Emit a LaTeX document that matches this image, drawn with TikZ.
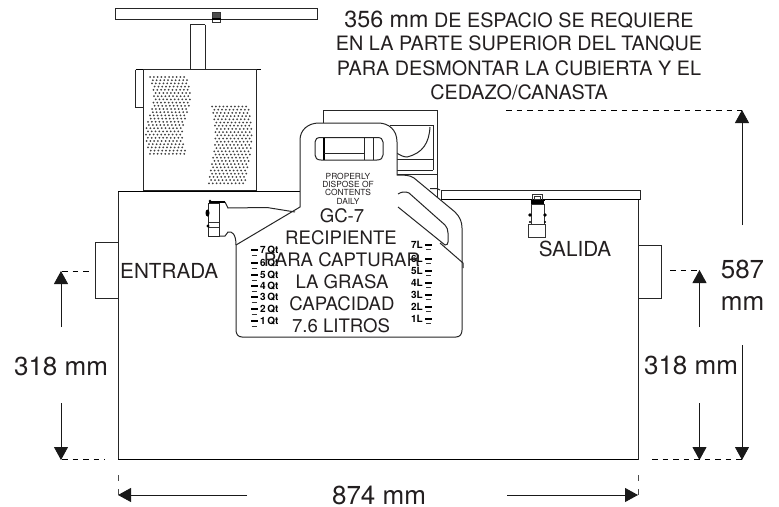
\documentclass[tikz,border=0pt]{standalone}
\usepackage{fontspec}
\setmainfont{TeX Gyre Heros}
\usetikzlibrary{arrows.meta}
\definecolor{ink}{HTML}{231F20}
\tikzset{
  x=1pt,y=-1pt,
  ln/.style={line width=1pt,draw=black!85},
  thick line/.style={line width=1.3pt,draw=black},
  thin line/.style={line width=.8pt,draw=black!80},
  dim/.style={line width=.9pt,draw=black!90,-{Triangle[length=13pt,width=14pt]}},
  dash line/.style={line width=.8pt,draw=black,dash pattern=on 5.5pt off 5pt},
  lab/.style={inner sep=0pt,text=ink,font=\fontsize{26}{26}\selectfont},
  big/.style={inner sep=0pt,text=ink,font=\fontsize{20.7}{20.7}\selectfont},
  jugt/.style={inner sep=0pt,text=ink,font=\fontsize{18.6}{18.6}\selectfont},
  warn/.style={inner sep=0pt,text=ink,font=\fontsize{8.4}{8.4}\selectfont},
  top/.style={inner sep=0pt,text=ink,font=\fontsize{19.8}{19.8}\selectfont},
  grad/.style={inner sep=0pt,text=black,font=\bfseries\fontsize{10}{10}\selectfont},
  perf/.style={fill=black!75},
}
\begin{document}
\begin{tikzpicture}
\useasboundingbox[fill=white] (0,0) rectangle (779,506);
% tank
\draw[ln] (118,191.5) -- (118,459.5);
\draw[thick line] (118,459.5) -- (638,459.5);
\draw[ln] (638,199) -- (638,459.5);
\draw[thick line] (118,191.5) -- (330,191.5);
% inlet / outlet
\draw[ln] (118,242) -- (95.5,242) -- (95.5,298) -- (118,298);
\draw[ln] (638,245.5) -- (661,245.5) -- (661,298) -- (638,298);
% top bar and strainer
\draw[ln] (115.5,8.5) rectangle (317.5,19);
\draw[thin line] (212.5,12.5) rectangle (220.5,22);
\fill[black!70] (213,13) rectangle (220,18);
\draw[thick line] (212,19) -- (221,19);
\draw[ln] (190,24.5) -- (205,24.5);
\draw[ln] (190,24.5) -- (190,69);
\draw[ln] (205,24.5) -- (205,69);
\draw[thick line] (135.5,69.5) -- (260.5,69.5);
\draw[ln] (135.5,69.5) -- (135.5,107) -- (143,107);
\draw[ln] (143,69.5) rectangle (256,190);
\foreach \r in {0,...,24}{
  \pgfmathsetmacro{\lx}{150+4*sin(\r*15)+1.8*mod(\r,2)}
  \pgfmathsetmacro{\ly}{77+\r*3.2}
  \foreach \c in {0,...,9}{ \fill[perf] (\lx+\c*3.8,\ly) circle[radius=1pt]; }
}
\foreach \r in {0,...,24}{
  \pgfmathsetmacro{\lx}{212+3.5*sin(\r*10)+1.8*mod(\r,2)}
  \pgfmathsetmacro{\ly}{106.5+\r*3.2}
  \foreach \c in {0,...,9}{ \fill[perf] (\lx+\c*3.8,\ly) circle[radius=1pt]; }
}
% box behind jug
\draw[ln] (323,135) -- (323,110) -- (437,110) -- (437,188);
\draw[ln] (390,125) -- (433,125) -- (433,170);
\draw[ln] (430,127) .. controls (429,143) and (423,153) .. (407,157) .. controls (403,157) and (400,155) .. (395,152);
\draw[ln] (395,159) -- (433,159);
\draw[ln] (395,170) -- (433,170);
\draw[ln] (395,174.5) -- (437,174.5);
\draw[ln] (430,188.5) -- (437,188.5) -- (440,190);
\draw[ln] (437,188) -- (437,198);
% lid
\draw[ln] (441,190) rectangle (640,199.5);
\draw[thick line] (441,199.5) -- (640,199.5);
% outlet clasp
\draw[thin line] (532,194) rectangle (542,200);
\draw[thin line] (534,196) rectangle (540,199);
\draw[thick line] (530.5,200.5) -- (544.5,200.5);
\draw[thin line] (531,204) rectangle (544,224);
\draw[thin line] (528.5,224) rectangle (545.5,237);
\fill[black] (530,215) circle[radius=1.8pt];
\fill[black] (545,215) circle[radius=1.8pt];
\fill[black] (530,222) circle[radius=1.2pt];
\fill[black] (545,222) circle[radius=1.2pt];
\fill[black] (531,201) rectangle (544,204);
% jug
\draw[ln,fill=white] (236,245) -- (300,207) -- (300,140)
  .. controls (300,130) and (308,123) .. (319,123)
  -- (378,123) .. controls (389,123) and (397,130) .. (397,142)
  -- (397,175) .. controls (404,175) and (410,175) .. (414,178)
  -- (455,212) .. controls (460,217) and (462,222) .. (462,228)
  -- (462,330) .. controls (462,334) and (460,337) .. (456,337)
  -- (242,337) .. controls (238,337) and (236,334) .. (236,330) -- cycle;
% handle hole
\draw[ln] (321,137.5) -- (377,137.5) .. controls (381,137.5) and (383,139) .. (383,142)
  -- (383,155) .. controls (383,158) and (381,160) .. (377,160)
  -- (321,160) .. controls (317,160) and (315,158) .. (315,155)
  -- (315,142) .. controls (315,139) and (317,137.5) .. (321,137.5) -- cycle;
\draw[thick line] (324,137.5) -- (324,160);
\draw[ln] (364,137.5) -- (364,160);
\draw[ln] (373.5,137.5) -- (373.5,160);
\draw[ln] (324,153) -- (364,153);
% shoulder hole
\draw[ln] (398,194) .. controls (401,192) and (405,191) .. (409,193)
  -- (445,225) .. controls (447,227) and (448,230) .. (448,233)
  -- (448,242) .. controls (448,244) and (447,245) .. (445,245) -- (398,207);
\draw[ln] (440,243) -- (463,263) -- (463,268);
% inlet pipe and clasp
\draw[ln] (225,202) -- (228,208) -- (267,207.5) -- (295,212);
\draw[ln] (219,236) -- (225,236) -- (228,232) .. controls (232,231) and (236,234) .. (236,245);
\draw[ln] (208.5,203) rectangle (219.5,236);
\draw[thick line] (209,202) -- (225,202);
\draw[thin line] (209,222) -- (219,222);
\draw[thin line] (209,227) -- (219,227);
\fill[black] (207.5,213) ellipse[x radius=2pt,y radius=3.5pt];
\fill[black] (208,226) circle[radius=1.7pt];
\fill[black] (210,201) circle[radius=1.3pt];
% graduations left
\foreach \n/\yy in {7/250,6/263,5/275,4/286,3/297,2/309,1/321}{
  \draw[thick line] (251,\yy) -- (258,\yy);
  \draw[thin line] (251.5,\yy+5.5) -- (257,\yy+5.5);
  \node[grad,anchor=west] at (260,\yy) {\n\,Qt};
}
% graduations right
\foreach \n/\yy in {7/245,6/259,5/271,4/283,3/295,2/307,1/319}{
  \node[grad,anchor=east] at (423,\yy) {\n L};
  \draw[thick line] (425,\yy) -- (432,\yy);
  \draw[thin line] (426,\yy+4) -- (431,\yy+4);
}
% jug texts
\node[warn] (w1) at (348,176) {PROPERLY};
\node[warn] (w2) at (348,184) {DISPOSE OF};
\node[warn] (w3) at (348,192.5) {CONTENTS};
\node[warn] (w4) at (348,201) {DAILY};
\node[jugt] (j1) at (342,216) {GC-7};
\node[jugt] (j2) at (341,237.5) {RECIPIENTE};
\node[jugt] (j3) at (342,260) {PARA CAPTURAR};
\node[jugt] (j4) at (342,282) {LA GRASA};
\node[jugt] (j5) at (342,303.5) {CAPACIDAD};
\node[jugt] (j6) at (341,326) {7.6 LITROS};
% labels
\node[big,anchor=west] (entrada) at (120,271) {ENTRADA};
\node[big] (salida) at (575,249) {SALIDA};
\node[lab] (l318) at (61,366) {318 mm};
\node[lab] (r318) at (691,365) {318 mm};
\node[lab] (w874) at (379,495) {874 mm};
\node[lab] (h587a) at (742.5,269) {587};
\node[lab] (h587b) at (742.5,303) {mm};
\node[top] (t1) at (519,20) {{\fontsize{23.3}{23.3}\selectfont 356 mm} DE ESPACIO SE REQUIERE};
\node[top] (t2) at (519,44) {EN LA PARTE SUPERIOR DEL TANQUE};
\node[top] (t3) at (519,68) {PARA DESMONTAR LA CUBIERTA Y EL};
\node[top] (t4) at (519,92) {CEDAZO/CANASTA};
% dimension coordinates
\coordinate (la1) at (61,327); \coordinate (la1t) at (61,271);
\coordinate (la2) at (61,403); \coordinate (la2t) at (61,460);
\coordinate (ra1) at (699.5,327); \coordinate (ra1t) at (699.5,270);
\coordinate (ra2) at (699.5,403); \coordinate (ra2t) at (699.5,460);
\coordinate (oa1) at (742,225); \coordinate (oa1t) at (742,110);
\coordinate (oa2) at (742,345); \coordinate (oa2t) at (742,460);
\coordinate (wa1) at (247,495); \coordinate (wa1t) at (118,495);
\coordinate (wa2) at (507,495); \coordinate (wa2t) at (638,495);
\draw[dim] (la1) -- (la1t);
\draw[dim] (la2) -- (la2t);
\draw[dim] (ra1) -- (ra1t);
\draw[dim] (ra2) -- (ra2t);
\draw[dim] (oa1) -- (oa1t);
\draw[dim] (oa2) -- (oa2t);
\draw[dim] (wa1) -- (wa1t);
\draw[dim] (wa2) -- (wa2t);
\draw[dash line] (62,271) -- (90,271);
\draw[dash line] (62,459.5) -- (105,459.5);
\draw[dash line] (670,270) -- (699,270);
\draw[dash line] (652,459.5) -- (742,459.5);
\draw[dash line] (506,110) -- (742,110);
\draw[line width=.9pt,draw=black!70,dash pattern=on 6pt off 8pt] (118,475) -- (118,497);
\draw[line width=.9pt,draw=black!70,dash pattern=on 6pt off 8pt] (638,475) -- (638,497);
\end{tikzpicture}
\end{document}
